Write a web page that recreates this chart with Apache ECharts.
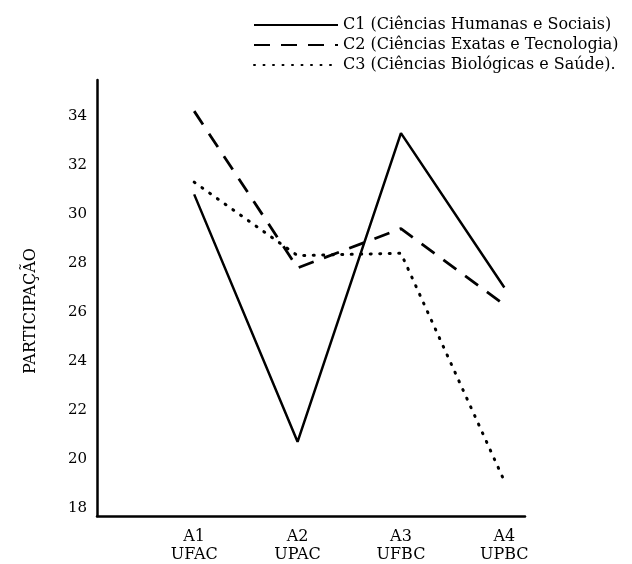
<!DOCTYPE html>
<html>
<head>
<meta charset="utf-8">
<script src="https://cdn.jsdelivr.net/npm/echarts@6/dist/echarts.min.js"></script>
<style>html,body{margin:0;padding:0;background:#fff;}#c{width:632px;height:564px;}</style>
</head>
<body>
<div id="c"></div>
<script>
const categories = ['A1\nUFAC', 'A2\nUPAC', 'A3\nUFBC', 'A4\nUPBC'];
const seriesNames = ['C1 (Ciências Humanas e Sociais)', 'C2 (Ciências Exatas e Tecnologia)', 'C3 (Ciências Biológicas e Saúde).'];
const c1 = [30.8, 20.7, 33.3, 27.0];
const c2 = [34.2, 27.8, 29.4, 26.3];
const c3 = [31.3, 28.3, 28.4, 19.1];
const yTicks = [18, 20, 22, 24, 26, 28, 30, 32, 34];

const font = '"DejaVu Serif", "Liberation Serif", serif';
const pts = arr => arr.map((v, i) => [i, v]);

const chart = echarts.init(document.getElementById('c'), null, {renderer: 'canvas'});
chart.setOption({
  animation: false,
  backgroundColor: '#fff',
  textStyle: {fontFamily: font, color: '#000'},
  legend: {
    orient: 'vertical',
    left: 248,
    top: 12,
    itemGap: 4,
    itemWidth: 84,
    itemHeight: 14,
    itemStyle: {opacity: 0},
    textStyle: {fontFamily: font, fontSize: 16, color: '#000'},
    data: seriesNames
  },
  grid: {left: 97, right: 107, top: 80, bottom: 48, containLabel: false},
  xAxis: {
    type: 'value',
    min: -0.94,
    max: 3.2,
    splitLine: {show: false},
    axisLine: {show: true, onZero: false, lineStyle: {color: '#000', width: 2.5}},
    axisTick: {show: false},
    axisLabel: {
      customValues: [0, 1, 2, 3],
      formatter: v => categories[Math.round(v)] || '',
      fontFamily: font, fontSize: 16, color: '#000', lineHeight: 18, margin: 12
    }
  },
  yAxis: {
    type: 'value',
    min: 17.67,
    max: 35.47,
    name: 'PARTICIPAÇÃO',
    nameLocation: 'middle',
    nameGap: 58,
    nameRotate: 90,
    nameTextStyle: {fontFamily: font, fontSize: 16, color: '#000', padding: [0, 26, 0, 0]},
    splitLine: {show: false},
    axisLine: {show: true, onZero: false, lineStyle: {color: '#000', width: 2.5}},
    axisTick: {show: false},
    axisLabel: {
      customValues: yTicks,
      fontFamily: font, fontSize: 15, color: '#000', margin: 10
    }
  },
  series: [
    {name: seriesNames[0], type: 'line', data: pts(c1), symbol: 'none',
     itemStyle: {color: '#000'},
     lineStyle: {color: '#000', width: 2.5, type: 'solid'}},
    {name: seriesNames[1], type: 'line', data: pts(c2), symbol: 'none',
     itemStyle: {color: '#000'},
     lineStyle: {color: '#000', width: 2.8, type: [16, 11]}},
    {name: seriesNames[2], type: 'line', data: pts(c3), symbol: 'none',
     itemStyle: {color: '#000'},
     lineStyle: {color: '#000', width: 3, type: [1, 8.5], cap: 'round'}}
  ]
});
</script>
</body>
</html>
